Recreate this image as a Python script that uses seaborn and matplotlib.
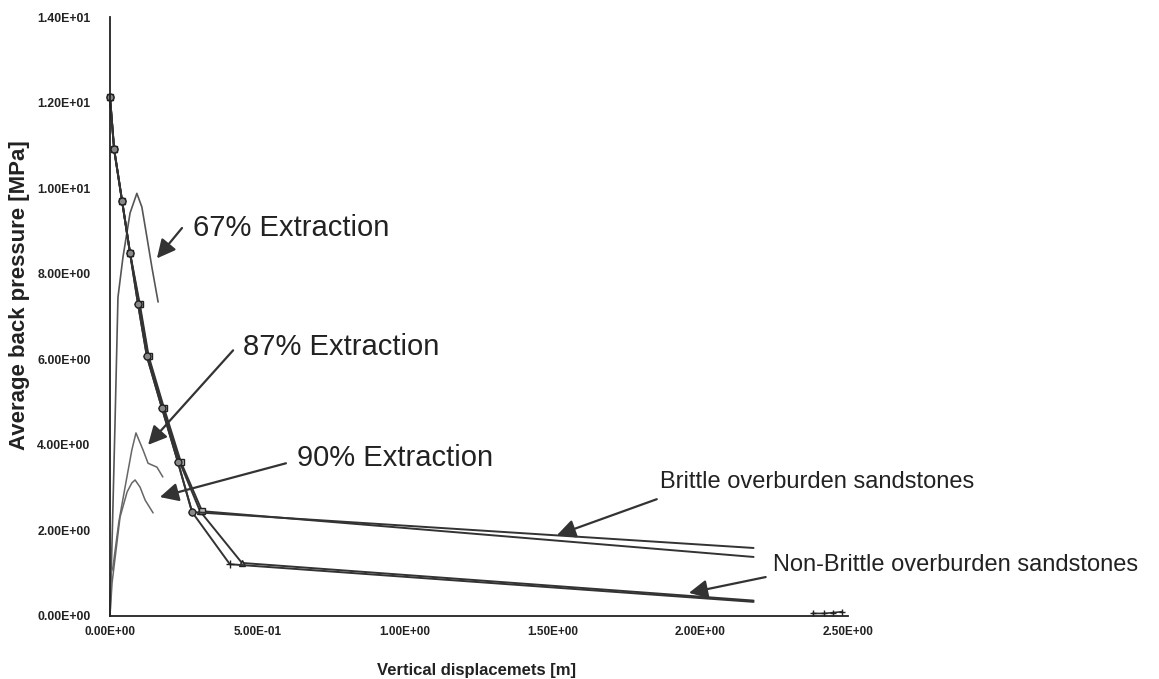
import matplotlib
matplotlib.use("Agg")
import matplotlib.pyplot as plt
import seaborn as sns
import pandas as pd
import numpy as np

# ---------------- data ----------------
# common unloading path from the peak (markers)
top_x = [0.0, 0.014, 0.041, 0.068, 0.095, 0.125, 0.176, 0.230]
top_y = [12.13, 10.91, 9.70, 8.48, 7.29, 6.07, 4.86, 3.60]

brittle_a_x = top_x + [0.278, 2.18]
brittle_a_y = top_y + [2.43, 1.59]
brittle_b_x = [0.0, 0.014, 0.041, 0.068, 0.101, 0.131, 0.183, 0.240, 0.312, 2.18]
brittle_b_y = [12.13, 10.91, 9.70, 8.48, 7.29, 6.07, 4.86, 3.60, 2.45, 1.38]
nonbrittle_a_x = top_x + [0.278, 0.406, 2.18]
nonbrittle_a_y = top_y + [2.43, 1.21, 0.33]
nonbrittle_b_x = [0.0, 0.014, 0.041, 0.068, 0.099, 0.129, 0.180, 0.236, 0.305, 0.447, 2.18]
nonbrittle_b_y = [12.13, 10.91, 9.70, 8.48, 7.29, 6.07, 4.86, 3.60, 2.45, 1.24, 0.36]

# extraction curves (loading)
ext67_x = [0.0, 0.008, 0.017, 0.027, 0.044, 0.068, 0.091, 0.108, 0.125, 0.142, 0.163]
ext67_y = [0.0, 2.0, 4.5, 7.45, 8.39, 9.42, 9.88, 9.56, 8.86, 8.15, 7.34]
ext87_x = [0.0, 0.003, 0.010, 0.030, 0.051, 0.074, 0.088, 0.112, 0.129, 0.159, 0.179]
ext87_y = [0.0, 1.0, 1.14, 2.2, 3.01, 3.88, 4.28, 3.88, 3.57, 3.48, 3.25]
ext90_x = [0.0, 0.007, 0.034, 0.058, 0.074, 0.085, 0.102, 0.119, 0.146]
ext90_y = [0.0, 0.77, 2.31, 2.90, 3.11, 3.18, 3.01, 2.71, 2.41]

tail_x = [2.38, 2.42, 2.45, 2.48]
tail_y = [0.06, 0.06, 0.08, 0.10]

x_ticks = [0.0, 0.5, 1.0, 1.5, 2.0, 2.5]
y_ticks = [0, 2, 4, 6, 8, 10, 12, 14]

annotations = [
    # text, text (x, y), arrow tail, arrow head, fontsize
    ("67% Extraction", (0.281, 9.07), (0.244, 9.07), (0.159, 8.36), 21),
    ("87% Extraction", (0.450, 6.29), (0.417, 6.21), (0.129, 4.00), 21),
    ("90% Extraction", (0.633, 3.69), (0.596, 3.57), (0.169, 2.78), 21),
    ("Brittle overburden sandstones", (1.862, 3.13), (1.852, 2.73), (1.514, 1.89), 17),
    ("Non-Brittle overburden sandstones", (2.245, 1.19), (2.221, 0.91), (1.961, 0.54), 17),
]

# ---------------- style ----------------
sns.set_theme(style="white")
plt.rcParams["font.family"] = ["Liberation Sans", "DejaVu Sans"]

fig = plt.figure(figsize=(11.59, 6.79), dpi=100)
ax = fig.add_axes([0.0949, 0.0928, 0.6368, 0.882])

def draw(x, y, color, lw, marker=None, ms=5, mfc="#888888", skip_last=True):
    df = pd.DataFrame({"x": x, "y": y})
    kw = dict(data=df, x="x", y="y", ax=ax, sort=False, estimator=None,
              color=color, linewidth=lw)
    if marker:
        kw.update(marker=marker, markersize=ms, markerfacecolor=mfc,
                  markeredgecolor="#222222", markeredgewidth=1.0)
        if skip_last:
            kw.update(markevery=list(range(len(x) - 1)))
    sns.lineplot(**kw)
    for line in ax.lines:
        line.set_clip_on(False)

# loading curves (lighter)
draw(ext67_x, ext67_y, "#555555", 1.2)
draw(ext87_x, ext87_y, "#666666", 1.1)
draw(ext90_x, ext90_y, "#666666", 1.1)

# unloading curves
draw(nonbrittle_b_x, nonbrittle_b_y, "#333333", 1.4, marker="^", ms=4)
draw(nonbrittle_a_x, nonbrittle_a_y, "#333333", 1.4, marker="+", ms=6)
draw(brittle_b_x, brittle_b_y, "#333333", 1.4, marker="s", ms=4, mfc="#bbbbbb")
draw(brittle_a_x, brittle_a_y, "#333333", 1.4, marker="o", ms=5)
draw(tail_x, tail_y, "#333333", 1.2, marker="+", ms=4, skip_last=False)

ax.set_xlim(0, 2.5)
ax.set_ylim(0, 14)
ax.set_xticks(x_ticks)
ax.set_yticks(y_ticks)
ax.set_xticklabels([f"{v:.2E}" for v in x_ticks])
ax.set_yticklabels([f"{float(v):.2E}" for v in y_ticks])

for s in ["top", "right"]:
    ax.spines[s].set_visible(False)
for s in ["left", "bottom"]:
    ax.spines[s].set_color("#222222")
    ax.spines[s].set_linewidth(1.3)

ax.tick_params(axis="x", direction="inout", length=7, width=1.2, color="#222222",
               pad=4, labelsize=8.5, labelcolor="#222222")
ax.tick_params(axis="y", direction="out", length=4, width=1.2, color="#222222",
               pad=10, labelsize=8.8, labelcolor="#222222")
for lab in ax.get_xticklabels() + ax.get_yticklabels():
    lab.set_fontweight("bold")

ax.set_xlabel("Vertical displacemets [m]", fontsize=12, fontweight="bold", color="#222222")
ax.set_ylabel("Average back pressure [MPa]", fontsize=16, fontweight="bold", color="#222222")
ax.xaxis.set_label_coords(0.496, -0.078)
ax.yaxis.set_label_coords(-0.108, 0.536)

for text, tpos, tail, head, fs in annotations:
    ax.annotate("", xy=head, xytext=tail,
                arrowprops=dict(arrowstyle="-|>", color="#333333", lw=1.6,
                                mutation_scale=28, shrinkA=0, shrinkB=0),
                annotation_clip=False)
    ax.text(tpos[0], tpos[1], text, fontsize=fs, color="#222222",
            ha="left", va="center", clip_on=False)

fig.savefig("out.png", dpi=100, facecolor="white")
